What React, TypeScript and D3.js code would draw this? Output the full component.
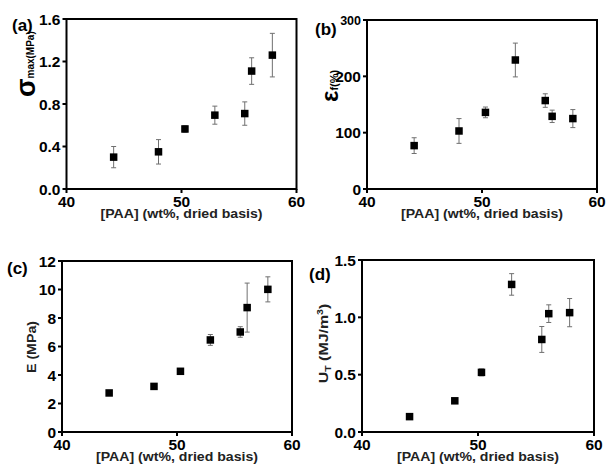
import React from "react";
import * as d3 from "d3";

const xVals = [44.1, 48.0, 50.3, 52.9, 55.5, 56.1, 57.9];
const xTicks = [40, 50, 60];
const xLabel = "[PAA] (wt%, dried basis)";

const sigmaVals = [0.3, 0.35, 0.565, 0.695, 0.71, 1.11, 1.26];
const sigmaErr = [0.1, 0.115, 0.03, 0.085, 0.11, 0.125, 0.205];
const sigmaTicks = [0, 0.4, 0.8, 1.2, 1.6];

const strainVals = [77, 103, 136, 229, 157, 129, 125];
const strainErr = [14, 22, 9.5, 30, 12, 11, 16];
const strainTicks = [0, 100, 200, 300];

const modulusVals = [2.74, 3.2, 4.26, 6.46, 7.02, 8.73, 10.01];
const modulusErr = [0.12, 0.08, 0.1, 0.38, 0.37, 1.72, 0.88];
const modulusTicks = [0, 2, 4, 6, 8, 10, 12];

const toughVals = [0.134, 0.272, 0.52, 1.287, 0.807, 1.032, 1.041];
const toughErr = [0.015, 0.015, 0.03, 0.094, 0.113, 0.077, 0.123];
const toughTicks = [0, 0.5, 1.0, 1.5];

const FONT = "'Liberation Sans', Arial, sans-serif";

type PanelProps = {
  L: number; R: number; T: number; B: number;
  vals: number[]; errs: number[]; ticks: number[]; fmt: (v: number) => string;
  tag: string; tagX: number; tagY: number;
  yLabel: React.ReactNode;
  topTickSize?: number;
};

function Panel({ L, R, T, B, vals, errs, ticks, fmt, tag, tagX, tagY, yLabel, topTickSize }: PanelProps) {
  const x = d3.scaleLinear().domain([40, 60]).range([L, R]);
  const yMax = ticks[ticks.length - 1];
  const y = d3.scaleLinear().domain([0, yMax]).range([B, T]);
  const ms = 7.5;
  const cap = 2.5;
  return (
    <g>
      {vals.map((v, i) => {
        const cx = x(xVals[i]);
        const y1 = y(v + errs[i]);
        const y2 = y(v - errs[i]);
        return (
          <g key={"e" + i} stroke="#707070" strokeWidth={1}>
            <line x1={cx} x2={cx} y1={y1} y2={y2} />
            <line x1={cx - cap} x2={cx + cap} y1={y1} y2={y1} />
            <line x1={cx - cap} x2={cx + cap} y1={y2} y2={y2} />
          </g>
        );
      })}
      {vals.map((v, i) => (
        <rect key={"m" + i} x={x(xVals[i]) - ms / 2} y={y(v) - ms / 2} width={ms} height={ms} fill="#000" />
      ))}
      <rect x={L} y={T} width={R - L} height={B - T} fill="none" stroke="#000" strokeWidth={2} />
      {xTicks.map((t) => (
        <g key={"xt" + t}>
          <line x1={x(t)} x2={x(t)} y1={B} y2={B + 4} stroke="#000" strokeWidth={2} />
          <text x={x(t)} y={B + 18} textAnchor="middle" fontFamily={FONT} fontWeight="bold" fontSize={15.5} fill="#000">{t}</text>
        </g>
      ))}
      {ticks.map((t, i) => (
        <g key={"yt" + t}>
          <line x1={L - 4} x2={L} y1={y(t)} y2={y(t)} stroke="#000" strokeWidth={2} />
          <text x={L - 6} y={y(t)} dy="0.36em" textAnchor="end" fontFamily={FONT} fontWeight="bold"
            fontSize={i === ticks.length - 1 && topTickSize ? topTickSize : 15.5} fill="#000">{fmt(t)}</text>
        </g>
      ))}
      <text x={(L + R) / 2} y={B + 28.5} textAnchor="middle" fontFamily={FONT} fontWeight="bold" fontSize={12.5}
        textLength={162} lengthAdjust="spacingAndGlyphs" fill="#222">{xLabel}</text>
      <text x={tagX} y={tagY} fontFamily={FONT} fontWeight="bold" fontSize={17} fill="#000">{tag}</text>
      {yLabel}
    </g>
  );
}

export default function App() {
  const f1 = d3.format(".1f");
  const f0 = d3.format("d");
  return (
    <svg width={606} height={473} style={{ position: "absolute", left: 0, top: 0, background: "#fff" }}>
      <rect width={606} height={473} fill="#fff" />
      <Panel L={66.5} R={296.5} T={19} B={189} vals={sigmaVals} errs={sigmaErr} ticks={sigmaTicks} fmt={f1}
        tag="(a)" tagX={12} tagY={31}
        yLabel={
          <text transform="translate(35,97) rotate(-90)" fontFamily={FONT} fontWeight="bold" fill="#000">
            <tspan fontSize={27}>σ</tspan>
            <tspan fontSize={10} dy={-1}>max(MPa)</tspan>
          </text>
        } />
      <Panel L={367} R={597} T={20} B={189} vals={strainVals} errs={strainErr} ticks={strainTicks} fmt={f0}
        tag="(b)" tagX={315} tagY={35} topTickSize={12.5}
        yLabel={
          <text transform="translate(338,102) rotate(-90)" fontFamily={FONT} fontWeight="bold" fill="#000">
            <tspan fontSize={24}>ε</tspan>
            <tspan fontSize={11}>f(%)</tspan>
          </text>
        } />
      <Panel L={62} R={292} T={261} B={432} vals={modulusVals} errs={modulusErr} ticks={modulusTicks} fmt={f0}
        tag="(c)" tagX={7} tagY={274}
        yLabel={
          <text transform="translate(36,347) rotate(-90)" textAnchor="middle" fontFamily={FONT} fontWeight="bold"
            fontSize={13.5} textLength={52} lengthAdjust="spacingAndGlyphs" fill="#222">E (MPa)</text>
        } />
      <Panel L={362} R={594} T={260} B={432} vals={toughVals} errs={toughErr} ticks={toughTicks} fmt={f1}
        tag="(d)" tagX={309} tagY={280}
        yLabel={
          <g transform="translate(328,343.5) rotate(-90) scale(1.18,1)">
            <text textAnchor="middle" fontFamily={FONT} fontWeight="bold" fontSize={13.5} fill="#222">
              U<tspan fontSize={9} dy={3}>T</tspan><tspan dy={-3}> (MJ/m</tspan><tspan fontSize={9} dy={-5}>3</tspan><tspan dy={5}>)</tspan>
            </text>
          </g>
        } />
    </svg>
  );
}
